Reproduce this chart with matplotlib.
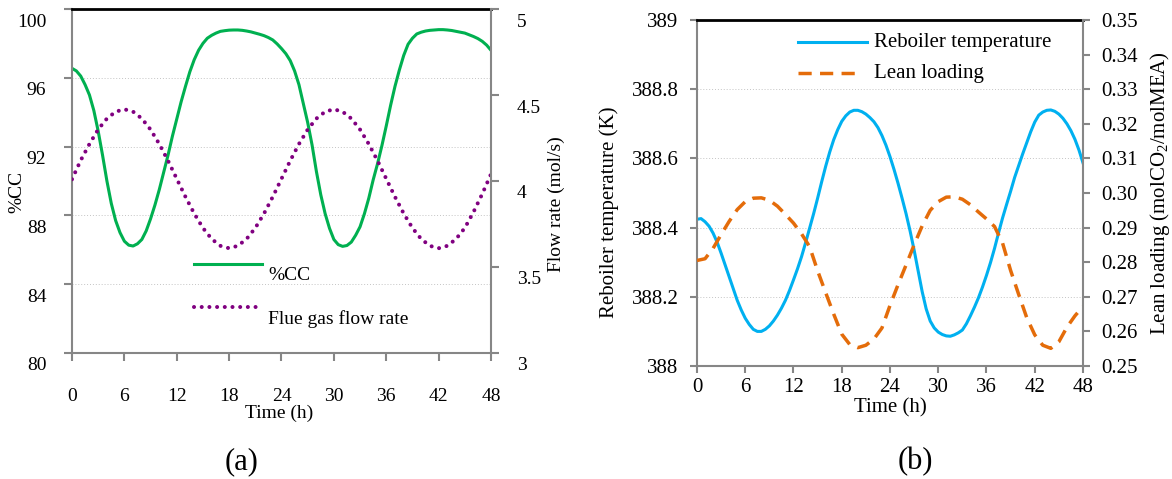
import matplotlib
matplotlib.use("Agg")
import matplotlib.pyplot as plt
from matplotlib.transforms import ScaledTranslation

plt.rcParams["font.family"] = ["Liberation Serif", "DejaVu Serif"]
plt.rcParams["mathtext.fontset"] = "custom"
plt.rcParams["mathtext.rm"] = "Liberation Serif"
plt.rcParams["mathtext.it"] = "Liberation Serif:italic"

# sample times: hourly and half-hourly over two days
hours = list(range(49))
half_hours = [i / 2 for i in range(97)]

# %CC, half-hourly
capture = [96.55, 96.4, 96.1, 95.6, 95.0, 94.1, 92.9, 91.5, 90.0, 88.7,
           87.7, 87.0, 86.5, 86.27, 86.22, 86.35, 86.6, 87.1, 87.8, 88.6,
           89.5, 90.5, 91.5, 92.6, 93.6, 94.6, 95.5, 96.35, 97.05, 97.6,
           98.0, 98.3, 98.47, 98.6, 98.7, 98.74, 98.77, 98.78, 98.78, 98.76,
           98.72, 98.67, 98.6, 98.53, 98.45, 98.34, 98.2, 97.97, 97.7, 97.4,
           97.0, 96.4, 95.6, 94.5, 93.4, 92.1, 90.55, 89.2, 88.1, 87.25,
           86.6, 86.3, 86.2, 86.25, 86.45, 86.85, 87.34, 88.1, 89.0, 90.06,
           91.0, 92.05, 93.2, 94.4, 95.5, 96.45, 97.3, 97.95, 98.3, 98.55,
           98.65, 98.72, 98.76, 98.78, 98.8, 98.8, 98.78, 98.75, 98.7, 98.65,
           98.6, 98.5, 98.4, 98.28, 98.12, 97.9, 97.6]

# flue gas flow rate (mol/s), hourly
flue_gas = [4.01, 4.12, 4.215, 4.30, 4.363, 4.403, 4.417, 4.403, 4.363, 4.299,
            4.215, 4.118, 4.013, 3.908, 3.811, 3.727, 3.663, 3.623, 3.609, 3.623,
            3.663, 3.727, 3.811, 3.908, 4.013, 4.118, 4.215, 4.299, 4.363, 4.403,
            4.417, 4.403, 4.363, 4.299, 4.215, 4.118, 4.013, 3.908, 3.811, 3.727,
            3.663, 3.623, 3.609, 3.623, 3.663, 3.727, 3.82, 3.925, 4.04]

# reboiler temperature (K), half-hourly
reboiler_T = [388.424, 388.426, 388.417, 388.404, 388.384, 388.358, 388.326, 388.292, 388.258, 388.224,
              388.190, 388.162, 388.138, 388.120, 388.106, 388.100, 388.100, 388.106, 388.116, 388.130,
              388.147, 388.167, 388.190, 388.218, 388.249, 388.281, 388.316, 388.356, 388.398, 388.440,
              388.485, 388.532, 388.577, 388.618, 388.654, 388.683, 388.707, 388.723, 388.734, 388.739,
              388.739, 388.735, 388.728, 388.718, 388.706, 388.689, 388.666, 388.638, 388.605, 388.568,
              388.528, 388.485, 388.440, 388.390, 388.335, 388.275, 388.215, 388.165, 388.130, 388.110,
              388.098, 388.091, 388.087, 388.086, 388.090, 388.096, 388.104, 388.122, 388.145, 388.170,
              388.197, 388.228, 388.262, 388.299, 388.340, 388.385, 388.428, 388.467, 388.505, 388.545,
              388.579, 388.613, 388.645, 388.677, 388.705, 388.725, 388.734, 388.739, 388.740, 388.736,
              388.728, 388.716, 388.700, 388.680, 388.655, 388.624, 388.587]

# lean loading (molCO2/molMEA), hourly
lean_loading = [0.2805, 0.2810, 0.2840, 0.2880, 0.2918, 0.2952, 0.2975, 0.2985, 0.2986, 0.2979,
                0.2962, 0.2938, 0.2913, 0.2882, 0.2845, 0.2775, 0.2712, 0.2650, 0.2592, 0.2562,
                0.2553, 0.2560, 0.2578, 0.2610, 0.2675, 0.2735, 0.2792, 0.2850, 0.2905, 0.2950,
                0.2975, 0.2988, 0.2989, 0.2982, 0.2966, 0.2945, 0.2925, 0.2903, 0.2855, 0.2776,
                0.2707, 0.2640, 0.2590, 0.2560, 0.2551, 0.2570, 0.2612, 0.2645, 0.2672]

time_ticks = [0, 6, 12, 18, 24, 30, 36, 42, 48]
cc_ticks = [80, 84, 88, 92, 96, 100]
flow_ticks = [3, 3.5, 4, 4.5, 5]
flow_labels = ["3", "3.5", "4", "4.5", "5"]
temp_ticks = [388, 388.2, 388.4, 388.6, 388.8, 389]
temp_labels = ["388", "388.2", "388.4", "388.6", "388.8", "389"]
load_ticks = [0.25, 0.26, 0.27, 0.28, 0.29, 0.30, 0.31, 0.32, 0.33, 0.34, 0.35]
load_labels = ["%.2f" % v for v in load_ticks]

GREY = "#868686"
GREEN = "#00B050"
PURPLE = "#800080"
BLUE = "#00B0F0"
ORANGE = "#E46C0A"
DOTS = (0, (0.01, 1.9))
DASHES = (0, (3.8, 2.4))

fig = plt.figure(figsize=(11.72, 4.79), dpi=100)
axA = fig.add_axes([0.06143, 0.26305, 0.35751, 0.71816])
axA2 = axA.twinx()
axB = fig.add_axes([0.59471, 0.23591, 0.32935, 0.72234])
axB2 = axB.twinx()


def frame(ax, ax2, size, tick_len, xpad, ypad):
    for s in ["left", "bottom"]:
        ax.spines[s].set_color(GREY)
        ax.spines[s].set_linewidth(1.5)
    ax.spines["top"].set_color("black")
    ax.spines["top"].set_linewidth(2)
    ax.spines["right"].set_visible(False)
    for s in ["left", "top", "bottom"]:
        ax2.spines[s].set_visible(False)
    ax2.spines["right"].set_color(GREY)
    ax2.spines["right"].set_linewidth(1.5)
    ax.tick_params(axis="x", direction="out", length=tick_len, width=1.5, color=GREY,
                   pad=xpad, labelsize=size, top=False)
    ax.tick_params(axis="y", direction="out", length=tick_len, width=1.5, color=GREY,
                   pad=ypad, labelsize=size, right=False)
    ax2.tick_params(axis="y", direction="out", length=tick_len, width=1.5, color=GREY,
                    pad=ypad, labelsize=size)
    ax.grid(axis="y", color="#C4C4C4", linestyle=(0, (1, 2)), linewidth=0.7)
    ax.set_axisbelow(True)
    ax.set_xlim(0, 48)
    ax.set_xticks(time_ticks)
    ax.set_xticklabels([str(t) for t in time_ticks])


# (a) capture rate and flue gas flow
axA.plot(half_hours, capture, color=GREEN, lw=2.2)
axA2.plot(hours, flue_gas, color=PURPLE, lw=2.9, linestyle=DOTS, dash_capstyle="round")
axA.set_ylim(80, 100)
axA.set_yticks(cc_ticks)
axA.set_yticklabels([str(v) for v in cc_ticks])
axA2.set_ylim(3, 5)
axA2.set_yticks(flow_ticks)
axA2.set_yticklabels(flow_labels)
frame(axA, axA2, 14, 6, 19.5, 12.5)

# tick labels of panel (a) sit a little below their ticks
shift = ScaledTranslation(0, -11 / 100, fig.dpi_scale_trans)
for lab in axA.get_yticklabels() + axA2.get_yticklabels():
    lab.set_transform(lab.get_transform() + shift)

axA.set_ylabel("%CC", fontsize=14)
axA.yaxis.label.set_va("center")
axA.yaxis.set_label_coords(-0.131, 0.469)
axA2.set_ylabel("Flow rate (mol/s)", fontsize=14)
axA2.yaxis.label.set_va("center")
axA2.yaxis.set_label_coords(1.157, 0.433)
axA.set_xlabel("Time (h)", fontsize=14)
axA.xaxis.label.set_va("center")
axA.xaxis.set_label_coords(0.495, -0.174)

axA.plot([0.290, 0.454], [0.258, 0.258], transform=axA.transAxes, color=GREEN, lw=2.2,
         clip_on=False)
axA.text(0.4685, 0.225, "%CC", transform=axA.transAxes, va="center", fontsize=14)
axA.plot([0.290, 0.449], [0.135, 0.135], transform=axA.transAxes, color=PURPLE, lw=2.9,
         linestyle=DOTS, dash_capstyle="round", clip_on=False)
axA.text(0.4685, 0.099, "Flue gas flow rate", transform=axA.transAxes, va="center", fontsize=14)

# (b) reboiler temperature and lean loading
axB.plot(half_hours, reboiler_T, color=BLUE, lw=2.2)
axB2.plot(hours, lean_loading, color=ORANGE, lw=2.5, linestyle=DASHES)
axB.set_ylim(388, 389)
axB.set_yticks(temp_ticks)
axB.set_yticklabels(temp_labels)
axB2.set_ylim(0.25, 0.35)
axB2.set_yticks(load_ticks)
axB2.set_yticklabels(load_labels)
frame(axB, axB2, 15, 5, 3.8, 8.3)

axB.set_ylabel("Reboiler temperature (K)", fontsize=15)
axB.yaxis.label.set_va("center")
axB.yaxis.set_label_coords(-0.228, 0.444)
axB2.set_ylabel(r"Lean loading (molCO$_2$/molMEA)", fontsize=15)
axB2.yaxis.label.set_va("center")
axB2.yaxis.set_label_coords(1.199, 0.499)
axB.set_xlabel("Time (h)", fontsize=15)
axB.xaxis.label.set_va("center")
axB.xaxis.set_label_coords(0.5, -0.121)

axB.plot([0.262, 0.4396], [0.9355, 0.9355], transform=axB.transAxes, color=BLUE, lw=2.2,
         clip_on=False)
axB.text(0.459, 0.9355, "Reboiler temperature", transform=axB.transAxes, va="center", fontsize=15)
axB.plot([0.262, 0.416], [0.846, 0.846], transform=axB.transAxes, color=ORANGE, lw=2.5,
         linestyle=DASHES, clip_on=False)
axB.text(0.459, 0.846, "Lean loading", transform=axB.transAxes, va="center", fontsize=15)

fig.text(0.2065, 0.0355, "(a)", ha="center", va="center", fontsize=22)
fig.text(0.781, 0.0355, "(b)", ha="center", va="center", fontsize=22)

fig.savefig("out.png", dpi=100)
